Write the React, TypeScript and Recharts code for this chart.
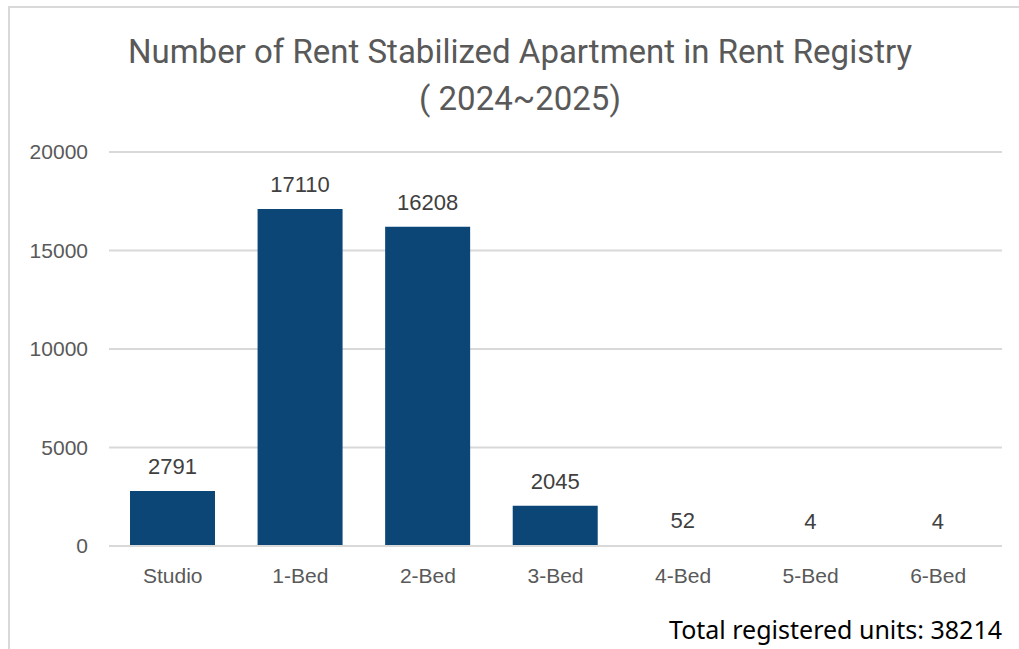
import { BarChart, Bar, XAxis, YAxis, CartesianGrid, LabelList } from "recharts";

const categories = ["Studio", "1-Bed", "2-Bed", "3-Bed", "4-Bed", "5-Bed", "6-Bed"];
const units = [2791, 17110, 16208, 2045, 52, 4, 4];
const yTicks = [0, 5000, 10000, 15000, 20000];
const totalUnits = 38214;

const data = categories.map((name, i) => ({ name, units: units[i] }));

const BAR_COLOR = "#0b4677";
const AXIS_GRAY = "#595959";

export default function App() {
  return (
    <div
      style={{
        position: "absolute",
        left: 0,
        top: 0,
        width: 1019,
        height: 649,
        background: "#fff",
        overflow: "hidden",
        fontFamily: "'Liberation Sans', Arial, sans-serif",
      }}
    >
      {/* chart frame */}
      <div
        style={{
          position: "absolute",
          left: 8,
          top: 6,
          width: 1030,
          height: 700,
          border: "2px solid #d9d9d9",
          boxSizing: "border-box",
        }}
      />
      <div
        style={{
          position: "absolute",
          left: 0,
          width: 1040,
          top: 28,
          textAlign: "center",
          color: AXIS_GRAY,
          fontFamily: "Roboto, 'Noto Sans', sans-serif",
          fontSize: 33,
          lineHeight: "47px",
        }}
      >
        <div>Number of Rent Stabilized Apartment in Rent Registry</div>
        <div>( 2024~2025)</div>
      </div>
      <BarChart
        width={1019}
        height={649}
        data={data}
        margin={{ top: 152, right: 17, bottom: 43, left: 9 }}
        style={{ position: "absolute", left: 0, top: 0 }}
      >
        <CartesianGrid vertical={false} stroke="#d9d9d9" strokeWidth={2} />
        <XAxis
          dataKey="name"
          height={60}
          axisLine={{ stroke: "#d9d9d9", strokeWidth: 2 }}
          tickLine={false}
          tickSize={0}
          tickMargin={22}
          tick={{ fill: AXIS_GRAY, fontSize: 21 }}
        />
        <YAxis
          width={100}
          domain={[0, 20000]}
          ticks={yTicks}
          axisLine={false}
          tickLine={false}
          tickSize={0}
          tickMargin={21}
          tick={{ fill: AXIS_GRAY, fontSize: 21 }}
        />
        <Bar dataKey="units" fill={BAR_COLOR} barSize={85} isAnimationActive={false}>
          <LabelList dataKey="units" position="top" offset={17} fill="#404040" fontSize={22} />
        </Bar>
      </BarChart>
      <div
        style={{
          position: "absolute",
          right: 17,
          top: 614,
          color: "#000",
          fontFamily: "'Noto Sans', 'Open Sans', sans-serif",
          fontSize: 25,
          lineHeight: "30px",
          whiteSpace: "nowrap",
        }}
      >
        Total registered units: {totalUnits}
      </div>
    </div>
  );
}
